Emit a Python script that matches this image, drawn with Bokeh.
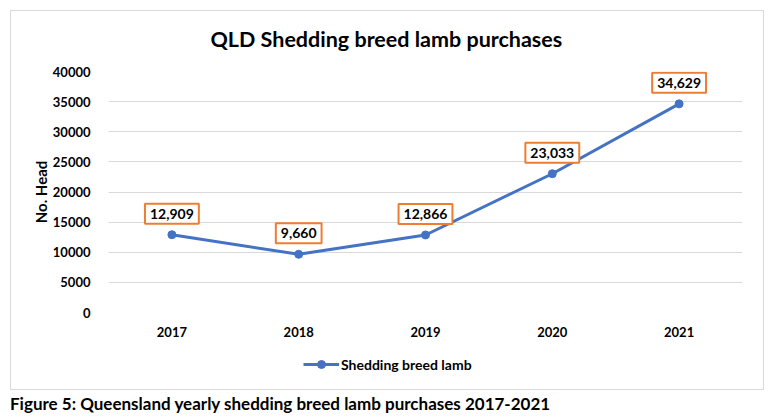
from bokeh.plotting import figure
from bokeh.layouts import column
from bokeh.models import (ColumnDataSource, Legend, LegendItem, Range1d,
                          FactorRange, Div, SingleIntervalTicker)
from bokeh.core.properties import value
from bokeh.embed import file_html
from bokeh.resources import INLINE

years = ["2017", "2018", "2019", "2020", "2021"]
purchases = [12909, 9660, 12866, 23033, 34629]
labels = [f"{v:,}" for v in purchases]

title_text = "QLD Shedding breed lamb purchases"
y_label = "No. Head"
series_name = "Shedding breed lamb"
caption = "Figure 5: Queensland yearly shedding breed lamb purchases 2017-2021"

FONT = "Lato"
BLUE = "#4472C4"
ORANGE = "#ED7D31"
GRID = "#d9d9d9"
grad = "linear-gradient(%s,%s)" % (GRID, GRID)


def border_styles(sizes, positions):
    return {
        "background-color": "white",
        "background-image": ", ".join([grad] * len(sizes)),
        "background-size": ", ".join(sizes),
        "background-position": ", ".join(positions),
        "background-repeat": "no-repeat",
    }


src = ColumnDataSource(dict(x=years, y=purchases, lab=labels))

# ---- main chart (top part) ----
p = figure(width=774, height=345, x_range=FactorRange(*years), y_range=Range1d(0, 40000),
           output_backend="svg", toolbar_location=None,
           min_border_left=108, min_border_right=32, min_border_top=71, min_border_bottom=33,
           border_fill_color=None, background_fill_color=None,
           styles=border_styles(["754px 1px", "1px 335px", "1px 335px"],
                                ["10px 10px", "10px 10px", "763px 10px"]))

p.title.text = title_text
p.title.align = "left"
p.title.offset = 102
p.title.standoff = 40
p.title.text_font = FONT
p.title.text_font_size = "21.5px"
p.title.text_font_style = "bold"
p.title.text_color = "#000000"

p.outline_line_color = None
p.xgrid.grid_line_color = None
p.ygrid.grid_line_color = GRID
p.yaxis.ticker = SingleIntervalTicker(interval=5000)

for ax in (p.xaxis, p.yaxis):
    ax.axis_line_color = None
    ax.major_tick_line_color = None
    ax.minor_tick_line_color = None
    ax.major_label_text_font = FONT
    ax.major_label_text_font_size = "13px"
    ax.major_label_text_font_style = "bold"
    ax.major_label_text_color = "#000000"

p.yaxis.major_label_standoff = 12
p.xaxis.major_label_standoff = 8
p.yaxis.axis_label = y_label
p.yaxis.axis_label_text_font = FONT
p.yaxis.axis_label_text_font_size = "15px"
p.yaxis.axis_label_text_font_style = "bold"
p.yaxis.axis_label_text_color = "#000000"
p.yaxis.axis_label_standoff = 0

ln = p.line("x", "y", source=src, line_color=BLUE, line_width=3)
sc = p.scatter("x", "y", source=src, size=8, fill_color=BLUE, line_color=BLUE)

p.text("x", "y", text="lab", source=src, y_offset=-21,
       text_align="center", text_baseline="middle",
       text_font=value(FONT), text_font_size="14px", text_font_style="bold",
       text_color="#000000",
       background_fill_color="white", border_line_color=ORANGE, border_line_width=2,
       padding=5)

# ---- legend strip (inside the chart border) ----
q = figure(width=774, height=45, x_range=Range1d(0, 634), y_range=Range1d(0, 45),
           output_backend="svg", toolbar_location=None,
           x_axis_type=None, y_axis_type=None,
           min_border=0, min_border_left=0, min_border_right=0,
           min_border_top=0, min_border_bottom=0,
           border_fill_color=None, background_fill_color=None,
           styles=border_styles(["1px 45px", "1px 45px", "754px 1px"],
                                ["10px 0px", "763px 0px", "10px 44px"]))
q.outline_line_color = None
q.grid.visible = False

# legend-only renderers (their single point lies outside the visible range)
lq = q.line(x=[-1000, -999], y=[-1000, -1000], line_color=BLUE, line_width=3)
sq = q.scatter(x=[-1000], y=[-1000], size=8, fill_color=BLUE, line_color=BLUE)

legend = Legend(items=[LegendItem(label=series_name, renderers=[lq, sq])],
                orientation="horizontal", location=(195, 16),
                label_text_font=FONT, label_text_font_size="14px", label_text_font_style="bold",
                label_text_color="#000000",
                border_line_color=None, background_fill_alpha=0,
                glyph_width=36, label_standoff=2, margin=0, padding=0)
q.add_layout(legend)

# ---- caption (outside the chart border) ----
cap = Div(text=('<div style="font-family: Lato, sans-serif; font-weight: bold; '
                'font-size: 17px; line-height: 27px; padding-left: 10px; margin: 0; '
                'white-space: nowrap; color: #000000;">%s</div>' % caption),
          width=774, height=27, margin=(0, 0, 0, 0))

layout = column(p, q, cap, spacing=0)
open("out.html", "w").write(file_html(layout, INLINE))
